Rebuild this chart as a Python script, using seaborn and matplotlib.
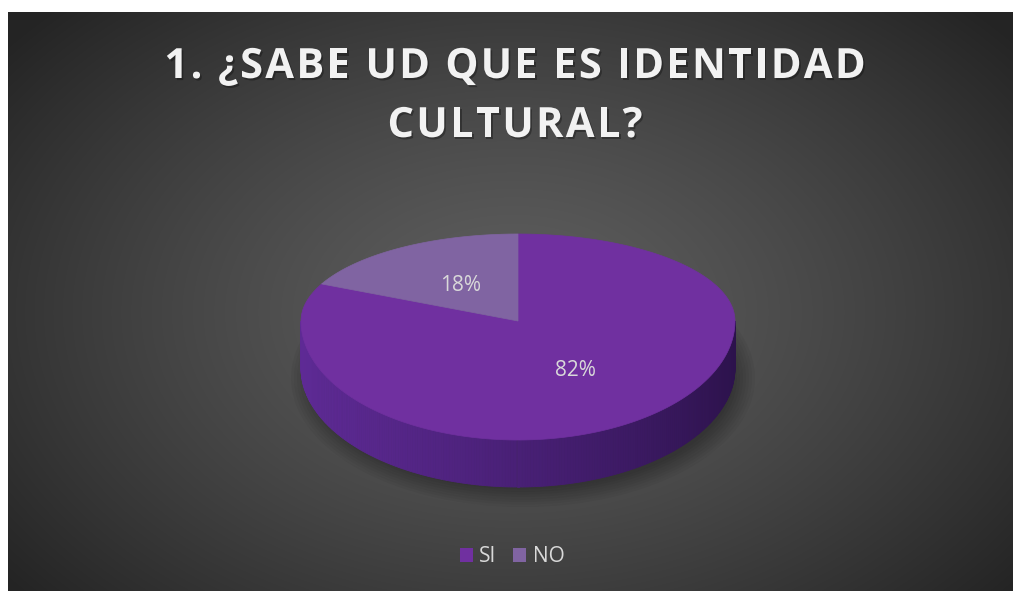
import numpy as np
import matplotlib
matplotlib.use('Agg')
import matplotlib.pyplot as plt
import matplotlib.patheffects as pe
from matplotlib.patches import Patch, Ellipse
import seaborn as sns

# datos
categorias = ['SI', 'NO']
valores = [82, 18]
etiquetas = ['82%', '18%']
colores = ['#7030A0', '#8064A2']
titulo = ['1. ¿SABE UD QUE ES IDENTIDAD', 'CULTURAL?']

sns.set_theme(style='white')
plt.rcParams['font.family'] = ['Open Sans', 'DejaVu Sans']

W, H = 1013, 591
fig = plt.figure(figsize=(W / 100, H / 100), dpi=100)
fig.patch.set_facecolor('white')

# fondo gris con degradado radial
bg = fig.add_axes([8 / W, 0, (W - 8) / W, (H - 12) / H])
yy, xx = np.mgrid[0:579, 0:1005]
r = np.sqrt(((xx - 505) / 640) ** 2 + ((yy - 300) / 430) ** 2)
r = np.clip(r, 0, 1)
val = 0.37 - (0.37 - 0.145) * r ** 1.3
bg.imshow(np.dstack([val] * 3), aspect='auto', interpolation='bilinear')
bg.axis('off')

# eje en pixeles
ax = fig.add_axes([0, 0, 1, 1])
ax.set_xlim(0, W)
ax.set_ylim(H, 0)
ax.axis('off')
ax.patch.set_alpha(0)

cx, cy = 518, 321
rx, ry_top, ry_bot = 217, 87, 119
prof = 47


def borde(t):
    t = np.radians(t)
    s = np.sin(t)
    x = cx + rx * np.cos(t)
    y = cy - np.where(s > 0, ry_top, ry_bot) * s
    return x, y


# sombra
for k in range(8):
    ax.add_patch(Ellipse((cx + 5, cy + prof + 10), 2 * rx + 30 - 6 * k, 2 * ry_bot + 20 - 5 * k,
                         facecolor='black', alpha=0.04, lw=0, zorder=1))

# lado del pastel (degradado)
lado_izq = np.array([0x5e, 0x2a, 0x95]) / 255
lado_der = np.array([0x2c, 0x12, 0x4c]) / 255
ts = np.linspace(180, 360, 240)
for a, b in zip(ts[:-1], ts[1:]):
    x0, y0 = borde(a)
    x1, y1 = borde(b)
    f = (x0 - (cx - rx)) / (2 * rx)
    c = lado_izq * (1 - f) ** 0.8 + lado_der * (1 - (1 - f) ** 0.8)
    ax.fill([x0, x1, x1, x0], [y0, y1, y1 + prof, y0 + prof], color=c, lw=0.6, ec=c, zorder=2)

# cara superior
total = sum(valores)
acum = np.concatenate([[0], np.cumsum(valores)]) / total
for i, v in enumerate(valores):
    a0 = 90 - 360 * acum[i]
    a1 = 90 - 360 * acum[i + 1]
    t = np.linspace(a0, a1, 200)
    x, y = borde(t)
    ax.fill(np.r_[cx, x], np.r_[cy, y], color=colores[i], lw=0.5, ec=colores[i], zorder=3)
    med = (a0 + a1) / 2
    lx, ly = borde(med)
    ax.text(cx + (lx - cx) * 0.49, cy + (ly - cy) * 0.49, etiquetas[i], ha='center', va='center',
            fontsize=15, color='#d9d9d9', zorder=4)

# titulo con espaciado entre letras
sombra = [pe.withSimplePatchShadow(offset=(1.2, -1.5), shadow_rgbFace='black', alpha=0.3)]
renderer = fig.canvas.get_renderer()
espacio = 2.3


def texto_espaciado(linea, xc, yb):
    anchos = []
    for ch in linea:
        t = ax.text(0, 0, ch.replace(' ', '\u00a0'), fontsize=30, fontweight='bold')
        anchos.append(t.get_window_extent(renderer).width)
        t.remove()
    total_w = sum(anchos) + espacio * (len(linea) - 1)
    x = xc - total_w / 2
    for ch, w in zip(linea, anchos):
        if ch != ' ':
            ax.text(x, yb, ch, ha='left', va='baseline', fontsize=30, fontweight='bold',
                    color='#f2f2f2', path_effects=sombra)
        x += w + espacio


texto_espaciado(titulo[0], 515, 78)
texto_espaciado(titulo[1], 515, 137)

# leyenda
handles = [Patch(facecolor=c, edgecolor='none') for c in colores]
ax.legend(handles, categorias, loc='center', bbox_to_anchor=(512 / W, 1 - 557 / H), ncol=2,
          frameon=False, fontsize=15, labelcolor='#d9d9d9', handlelength=0.64, handleheight=0.64,
          handletextpad=0.3, columnspacing=0.8)

fig.savefig('out.png', dpi=100)
